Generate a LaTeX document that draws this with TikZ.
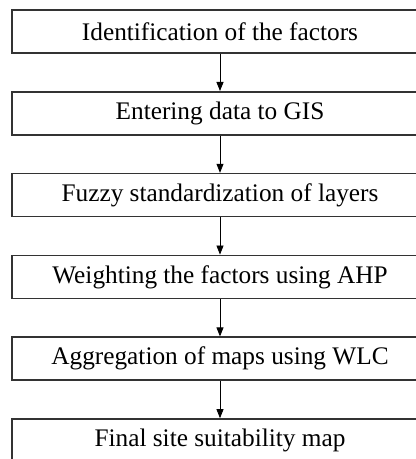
\documentclass[tikz,border=0pt]{standalone}
\usepackage{fontspec}
\setmainfont{Liberation Serif}
\usetikzlibrary{arrows.meta, positioning}

\begin{document}
\begin{tikzpicture}[
    x=1pt, y=1pt,
    stepbox/.style={draw=black!80, line width=1.6pt, minimum width=416pt, minimum height=43pt, inner sep=0, font=\fontsize{25.3}{28}\selectfont},
    flow/.style={-{Triangle[width=7pt, length=9pt]}, line width=0.8pt, black},
]
    \useasboundingbox (0,0) rectangle (416,459);
    \clip (0,0) rectangle (416,459);

    % Steps
    \node[stepbox] (ident) at (220, 427.5) {Identification of the factors};
    \node[stepbox, below=37.2pt of ident] (enter) {Entering data to GIS};
    \node[stepbox, below=37.2pt of enter] (fuzzy) {Fuzzy standardization of layers};
    \node[stepbox, below=37.2pt of fuzzy] (weight) {Weighting the factors using AHP};
    \node[stepbox, below=37.2pt of weight] (aggr) {Aggregation of maps using WLC};
    \node[stepbox, below=37.2pt of aggr] (final) {Final site suitability map};

    % Arrows
    \foreach \a/\b in {ident/enter, enter/fuzzy, fuzzy/weight, weight/aggr, aggr/final}
        \draw[flow] (\a.south) -- (\b.north);
\end{tikzpicture}
\end{document}
